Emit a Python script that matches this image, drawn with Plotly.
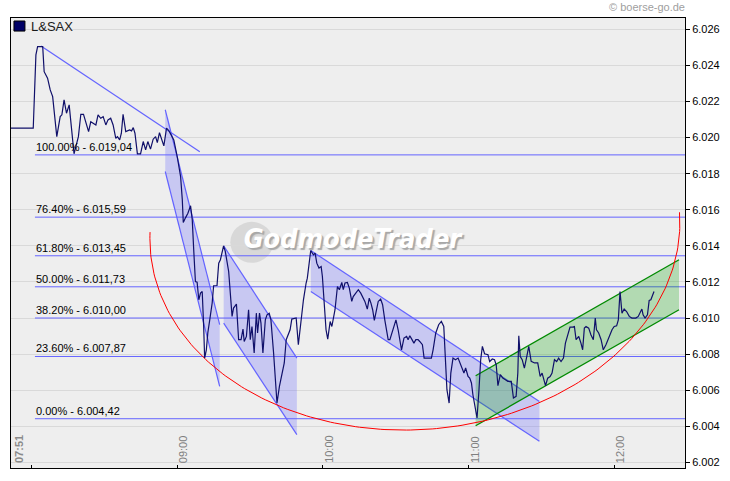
import numpy as np
import plotly.graph_objects as go

# ---------------- data ----------------
# time of day in minutes since midnight (07:51 = 471), L&SAX price
minute_of_day = [
    471.5, 480.7, 481.8, 482.5, 484.6, 485.2, 486.6, 487.7, 488.7, 490.4,
    491.8, 492.5, 493.4, 494.4, 495.5, 497.5, 499.3, 500.3, 501.4, 503.5,
    504.4, 505.5, 506.5, 507.4, 508.5, 509.5, 510.6, 511.5, 512.6, 513.6,
    514.7, 515.4, 516.3, 517.0, 517.7, 518.8, 519.6, 520.4, 521.2, 521.9,
    522.6, 523.6, 524.9, 526.0, 527.0, 527.9, 529.0, 530.1, 531.1, 531.8,
    532.7, 533.6, 534.5, 535.6, 536.6, 537.5, 538.6, 540.0, 541.4, 542.1,
    542.5, 543.4, 544.4, 545.5, 546.2, 546.8, 547.5, 548.2, 548.9, 549.6,
    550.3, 550.9, 551.3, 552.0, 552.6, 553.4, 554.4, 555.0, 556.4, 557.1,
    557.8, 559.1, 559.8, 561.2, 561.9, 562.6, 563.2, 564.4, 565.3, 566.3,
    567.1, 567.6, 568.5, 569.4, 570.1, 570.8, 571.7, 572.6, 573.1, 573.9,
    574.5, 575.3, 576.3, 577.0, 577.9, 578.6, 579.7, 580.4, 581.1, 582.1,
    583.1, 584.1, 584.9, 585.8, 586.5, 587.2, 588.6, 589.0, 589.9, 590.9,
    592.0, 593.1, 593.6, 595.0, 596.1, 596.8, 597.5, 598.4, 599.3, 599.8,
    600.5, 601.3, 602.0, 603.0, 603.7, 604.3, 605.0, 606.0, 606.8, 607.8,
    608.4, 609.1, 610.1, 610.9, 611.9, 612.5, 613.6, 614.6, 615.6, 616.4,
    617.3, 618.3, 619.1, 619.8, 620.5, 621.2, 621.9, 622.8, 623.8, 624.6,
    625.5, 626.2, 626.9, 627.6, 628.4, 629.2, 630.1, 631.0, 631.7, 632.4,
    633.4, 634.5, 635.1, 635.8, 636.6, 637.5, 638.3, 639.2, 639.9, 641.0,
    641.7, 642.9, 644.7, 645.4, 646.5, 647.7, 648.8, 649.8, 650.6, 651.1,
    652.0, 652.7, 653.6, 654.6, 655.7, 656.3, 657.5, 658.1, 658.8, 659.8,
    660.5, 661.2, 661.8, 662.5, 663.5, 664.3, 665.0, 665.7, 666.6, 668.0,
    668.7, 669.8, 670.7, 671.4, 672.1, 673.1, 674.1, 675.2, 676.2, 677.6,
    678.5, 679.6, 680.3, 680.7, 681.3, 682.1, 683.0, 684.0, 684.8, 685.8,
    687.2, 688.5, 689.5, 690.3, 690.8, 691.7, 692.6, 693.6, 694.4, 695.4,
    696.3, 697.1, 698.1, 699.1, 699.9, 700.8, 701.8, 702.9, 703.6, 704.3,
    705.4, 706.3, 707.0, 707.7, 708.4, 709.5, 710.4, 711.4, 712.2, 712.7,
    713.6, 714.6, 715.5, 716.6, 718.0, 719.1, 720.0, 721.0, 721.7, 722.4,
    723.2, 724.1, 725.1, 726.2, 727.3, 728.9, 729.9, 730.7, 731.4, 731.9,
    732.7, 733.7, 734.4, 735.1, 735.7, 736.4,
]
price = [
    6020.52, 6020.52, 6024.58, 6025.04, 6025.04, 6023.65, 6023.29, 6022.64, 6022.27, 6020.05,
    6021.16, 6021.26, 6022.09, 6021.35, 6021.81, 6019.10, 6020.05, 6021.29, 6021.29, 6020.33,
    6020.88, 6020.79, 6020.70, 6021.26, 6021.07, 6021.16, 6020.70, 6020.98, 6021.07, 6020.70,
    6019.96, 6020.05, 6019.87, 6020.24, 6021.29, 6020.33, 6020.37, 6020.42, 6020.37, 6020.55,
    6020.24, 6019.10, 6019.10, 6019.78, 6019.32, 6019.78, 6019.36, 6019.91, 6020.05, 6019.72,
    6020.27, 6019.91, 6019.54, 6020.52, 6020.37, 6020.15, 6019.87, 6018.95, 6017.84, 6016.55,
    6015.29, 6015.55, 6015.81, 6016.22, 6015.44, 6013.78, 6012.02, 6011.99, 6011.01, 6011.38,
    6011.47, 6009.53, 6007.78, 6008.24, 6009.17, 6009.90, 6010.83, 6011.79, 6011.80, 6013.04,
    6013.23, 6014.00, 6013.69, 6012.58, 6011.01, 6010.09, 6010.55, 6010.77, 6008.80, 6008.80,
    6009.39, 6008.70, 6008.98, 6010.46, 6008.80, 6009.53, 6008.06, 6010.27, 6009.17, 6010.27,
    6009.72, 6008.06, 6009.90, 6010.18, 6010.27, 6009.90, 6008.06, 6006.58, 6005.29, 6006.21,
    6006.95, 6007.51, 6008.80, 6009.17, 6009.35, 6009.94, 6010.00, 6010.00, 6008.52, 6009.90,
    6011.01, 6011.94, 6012.21, 6013.74, 6013.50, 6013.60, 6013.04, 6012.77, 6012.85, 6012.30,
    6010.64, 6009.35, 6008.83, 6009.81, 6009.53, 6010.00, 6010.46, 6011.75, 6011.57, 6011.97,
    6011.57, 6011.94, 6011.97, 6011.66, 6010.92, 6011.19, 6011.38, 6011.57, 6011.38, 6011.19,
    6010.92, 6010.49, 6011.10, 6010.83, 6010.46, 6009.87, 6010.27, 6010.92, 6011.05, 6010.74,
    6009.90, 6009.35, 6008.80, 6008.80, 6009.17, 6009.63, 6009.90, 6009.35, 6008.80, 6008.24,
    6008.89, 6008.98, 6008.80, 6009.02, 6008.83, 6008.61, 6008.80, 6008.80, 6008.70, 6008.52,
    6007.78, 6007.78, 6007.78, 6008.24, 6009.17, 6009.63, 6009.81, 6009.53, 6007.51, 6006.03,
    6005.29, 6006.95, 6007.78, 6007.69, 6007.78, 6007.59, 6007.14, 6006.95, 6007.23, 6006.76,
    6006.67, 6006.40, 6005.75, 6005.10, 6004.46, 6006.03, 6007.69, 6008.43, 6008.02, 6007.97,
    6007.59, 6007.73, 6007.69, 6007.41, 6006.25, 6006.86, 6006.67, 6006.58, 6006.49, 6006.49,
    6005.57, 6005.66, 6006.95, 6009.02, 6007.87, 6007.69, 6007.23, 6007.87, 6008.43, 6007.60,
    6007.51, 6007.51, 6006.76, 6006.95, 6006.67, 6006.25, 6006.67, 6006.76, 6006.95, 6007.69,
    6007.59, 6007.78, 6007.59, 6007.78, 6008.61, 6009.07, 6009.50, 6009.50, 6009.53, 6008.80,
    6008.98, 6008.61, 6008.24, 6009.44, 6009.53, 6009.44, 6009.07, 6008.80, 6010.00, 6009.35,
    6009.17, 6008.80, 6008.24, 6008.52, 6008.98, 6009.35, 6009.53, 6009.57, 6009.90, 6011.47,
    6010.27, 6010.50, 6010.36, 6010.09, 6010.00, 6010.00, 6010.09, 6010.36, 6010.50, 6010.18,
    6010.00, 6010.18, 6010.97, 6011.01, 6011.19, 6011.47,
]

# Fibonacci retracement levels
fib_pct = ["100.00%", "76.40%", "61.80%", "50.00%", "38.20%", "23.60%", "0.00%"]
fib_levels = [6019.04, 6015.59, 6013.45, 6011.73, 6010.00, 6007.87, 6004.42]
fib_start_minute = 481.4

# downtrend line from the high
downtrend_minutes = [483.9, 549.3]
downtrend_values = [6025.08, 6019.22]

# falling (blue) trend channels: start/end minute, upper and lower line values
channel_minutes = [[535.07, 557.50], [559.14, 589.28], [595.03, 689.20]]
channel_upper = [[6021.54, 6009.63], [6014.00, 6007.78], [6013.74, 6005.38]]
channel_lower = [[6018.12, 6006.21], [6009.72, 6003.54], [6011.47, 6003.17]]

# rising (green) trend channel
green_minutes = [662.92, 746.70]
green_upper = [6006.80, 6013.23]
green_lower = [6004.03, 6010.46]

# rounding-bottom arc (rotated ellipse: centre, two half-axis vectors, angle span in degrees)
arc_center = [637.9, 6014.83]
arc_u = [109.0, 1.03]
arc_w = [5.7, -10.99]
arc_span_deg = [0, 185]

# axes
x_range = [471.54, 749.16]
y_range = [6001.69, 6026.625]
x_tick_minutes = [480, 540, 600, 660, 720]
x_label_minutes = [540, 600, 660, 720]
x_label_text = ["09:00", "10:00", "11:00", "12:00"]
start_label = "07:51"
y_ticks = list(range(6002, 6027, 2))
y_tick_text = ["%d.%03d" % (v // 1000, v % 1000) for v in y_ticks]

BLUE = "#6464ff"
BLUE_FILL = "rgba(100,100,255,0.27)"
GREEN = "#008a00"
GREEN_FILL = "rgba(0,160,0,0.25)"
NAVY = "#10106a"
FONT = "Liberation Sans, Arial, sans-serif"
WM_FONT = "Liberation Sans Narrow, DejaVu Sans Condensed, Arial Narrow, Liberation Sans, sans-serif"


def de_fmt(v):
    s = "{:,.2f}".format(v)
    return s.replace(",", "X").replace(".", ",").replace("X", ".")


fig = go.Figure()

# watermark (drawn first so everything lies above it)
fig.add_trace(go.Scatter(
    x=[612.2], y=[6014.28], mode="text", text=["GodmodeTrader"],
    textfont=dict(family=WM_FONT, size=27, color="#ffffff", weight="bold", style="italic",
                  shadow="2px 2px 1px #a8a8a8"),
    hoverinfo="skip", showlegend=False))

# fibonacci lines
for lvl in fib_levels:
    fig.add_trace(go.Scatter(x=[fib_start_minute, x_range[1]], y=[lvl, lvl], mode="lines",
                             line=dict(color=BLUE, width=1), hoverinfo="skip", showlegend=False))

# blue channels
for mins, up, lo in zip(channel_minutes, channel_upper, channel_lower):
    fig.add_trace(go.Scatter(x=[mins[0], mins[1], mins[1], mins[0], mins[0]],
                             y=[up[0], up[1], lo[1], lo[0], up[0]],
                             mode="lines", fill="toself", fillcolor=BLUE_FILL,
                             line=dict(width=0, color="rgba(0,0,0,0)"),
                             hoverinfo="skip", showlegend=False))
    for ln in (up, lo):
        fig.add_trace(go.Scatter(x=mins, y=ln, mode="lines", line=dict(color=BLUE, width=1.2),
                                 hoverinfo="skip", showlegend=False))

# green channel
fig.add_trace(go.Scatter(x=[green_minutes[0], green_minutes[1], green_minutes[1], green_minutes[0], green_minutes[0]],
                         y=[green_upper[0], green_upper[1], green_lower[1], green_lower[0], green_upper[0]],
                         mode="lines", fill="toself", fillcolor=GREEN_FILL,
                         line=dict(width=0, color="rgba(0,0,0,0)"),
                         hoverinfo="skip", showlegend=False))
for ln in (green_upper, green_lower):
    fig.add_trace(go.Scatter(x=green_minutes, y=ln, mode="lines", line=dict(color=GREEN, width=1.3),
                             hoverinfo="skip", showlegend=False))

# downtrend line
fig.add_trace(go.Scatter(x=downtrend_minutes, y=downtrend_values, mode="lines",
                         line=dict(color=BLUE, width=1.2), hoverinfo="skip", showlegend=False))

# arc
t = np.radians(np.linspace(arc_span_deg[0], arc_span_deg[1], 200))
arc_x = arc_center[0] + np.cos(t) * arc_u[0] + np.sin(t) * arc_w[0]
arc_y = arc_center[1] + np.cos(t) * arc_u[1] + np.sin(t) * arc_w[1]
fig.add_trace(go.Scatter(x=arc_x, y=arc_y, mode="lines", line=dict(color="#ff0000", width=1),
                         hoverinfo="skip", showlegend=False))

# price line
fig.add_trace(go.Scatter(x=minute_of_day, y=price, mode="lines", name="L&SAX",
                         line=dict(color=NAVY, width=1.2), showlegend=False))

annotations = []
for pct, lvl in zip(fib_pct, fib_levels):
    annotations.append(dict(x=fib_start_minute, y=lvl, xref="x", yref="y",
                            text="%s - %s" % (pct, de_fmt(lvl)), showarrow=False,
                            xanchor="left", yanchor="bottom", xshift=-1, yshift=0,
                            font=dict(family=FONT, size=11, color="#000000")))
for m, txt in zip(x_label_minutes, x_label_text):
    annotations.append(dict(x=m, y=0, xref="x", yref="paper", text=txt, showarrow=False,
                            textangle=-90, xanchor="center", yanchor="bottom", xshift=6, yshift=3,
                            font=dict(family=FONT, size=11, color="#808080")))
annotations.append(dict(x=0, y=0, xref="paper", yref="paper", text="<b>%s</b>" % start_label,
                        showarrow=False, textangle=-90, xanchor="left", yanchor="bottom",
                        xshift=0, yshift=3, font=dict(family=FONT, size=11, color="#8a8a8a")))
annotations.append(dict(x=0.0266, y=0.982, xref="paper", yref="paper", text="L&amp;SAX",
                        showarrow=False, xanchor="left", yanchor="middle",
                        font=dict(family=FONT, size=13, color="#1a1a1a")))
annotations.append(dict(x=1, y=1.0244, xref="paper", yref="paper", text="© boerse-go.de",
                        showarrow=False, xanchor="right", yanchor="middle", xshift=2,
                        font=dict(family=FONT, size=11, color="#a0a0a0")))

shapes = [
    dict(type="circle", xref="paper", yref="paper", x0=0.3254, x1=0.389, y0=0.456, y1=0.547,
         fillcolor="#d8d8d8", line=dict(width=0), layer="below"),
    dict(type="rect", xref="paper", yref="paper", x0=0.0044, x1=0.0207, y0=0.971, y1=0.9933,
         fillcolor="#000066", line=dict(color="#000000", width=1)),
]

fig.update_layout(
    width=730, height=481,
    margin=dict(l=10, r=44, t=18, b=13),
    paper_bgcolor="#ffffff", plot_bgcolor="#eeeeee",
    font=dict(family=FONT, size=11, color="#000000"),
    showlegend=False,
    annotations=annotations, shapes=shapes,
    xaxis=dict(range=x_range, showgrid=False, zeroline=False, tickmode="array",
               tickvals=x_tick_minutes, showticklabels=False, ticks="inside", ticklen=3,
               tickcolor="#000000", showline=True, linecolor="#000000", linewidth=1, mirror=True),
    yaxis=dict(range=y_range, side="right", tickmode="array", tickvals=y_ticks, ticktext=y_tick_text,
               ticks="outside", ticklen=4, tickcolor="#000000", showgrid=True, gridcolor="#d9d9d9",
               gridwidth=1, zeroline=False, showline=True, linecolor="#000000", linewidth=1,
               mirror=True, tickfont=dict(family=FONT, size=11, color="#000000")),
)

fig.write_html("out.html", config={"displayModeBar": False},
               post_script="document.body.style.margin='0';document.documentElement.style.overflow='hidden';")
